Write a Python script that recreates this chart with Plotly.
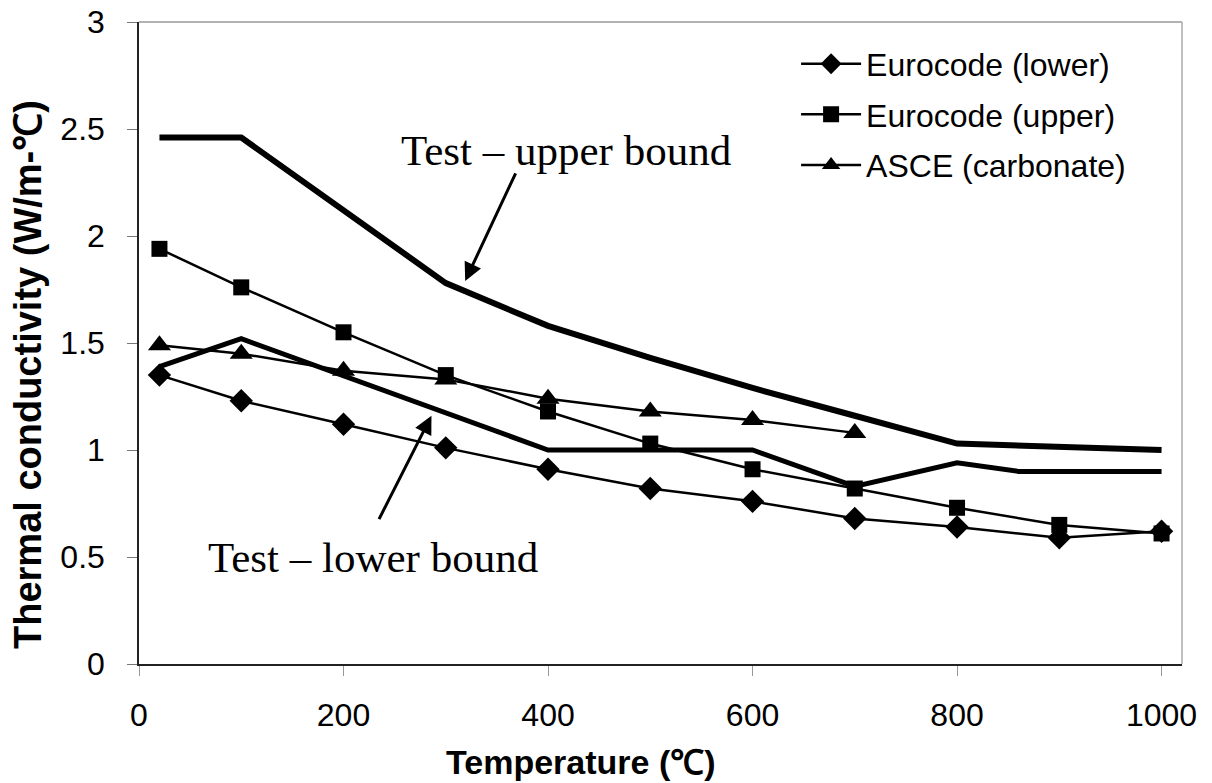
import plotly.graph_objects as go

# Data
temp_std = [20, 100, 200, 300, 400, 500, 600, 700, 800, 900, 1000]
euro_lower = [1.35, 1.23, 1.12, 1.01, 0.91, 0.82, 0.76, 0.68, 0.64, 0.59, 0.62]
euro_upper = [1.94, 1.76, 1.55, 1.35, 1.18, 1.03, 0.91, 0.82, 0.73, 0.65, 0.61]
asce_temp = [20, 100, 200, 300, 400, 500, 600, 700]
asce_carb = [1.49, 1.45, 1.37, 1.33, 1.24, 1.18, 1.14, 1.08]
test_up_temp = [20, 100, 300, 400, 500, 600, 700, 800, 1000]
test_up = [2.46, 2.46, 1.78, 1.58, 1.43, 1.29, 1.16, 1.03, 1.00]
test_lo_temp = [20, 100, 400, 600, 700, 800, 860, 1000]
test_lo = [1.39, 1.52, 1.00, 1.00, 0.83, 0.94, 0.90, 0.90]

fig = go.Figure()

fig.add_trace(go.Scatter(x=test_up_temp, y=test_up, mode="lines",
                         line=dict(color="black", width=6), showlegend=False))
fig.add_trace(go.Scatter(x=test_lo_temp, y=test_lo, mode="lines",
                         line=dict(color="black", width=5), showlegend=False))
fig.add_trace(go.Scatter(x=temp_std, y=euro_lower, mode="lines+markers",
                         name="Eurocode (lower)", legendgroup="a",
                         line=dict(color="black", width=2.5),
                         marker=dict(symbol="diamond", size=18, color="black")))
fig.add_trace(go.Scatter(x=temp_std, y=euro_upper, mode="lines+markers",
                         name="Eurocode (upper)", legendgroup="b",
                         line=dict(color="black", width=2.5),
                         marker=dict(symbol="square", size=16, color="black")))
fig.add_trace(go.Scatter(x=asce_temp, y=asce_carb, mode="lines+markers",
                         name="ASCE (carbonate)", legendgroup="c",
                         line=dict(color="black", width=2.5),
                         marker=dict(symbol="triangle-up", size=20, color="black")))

serif = "Liberation Serif, Times New Roman, serif"
sans = "Liberation Sans, Arial, sans-serif"

plot_w = 1212 - 139 - 30
plot_h = 783 - 22 - 119

fig.update_layout(
    width=1212, height=783,
    margin=dict(l=139, r=30, t=22, b=119),
    paper_bgcolor="white", plot_bgcolor="white",
    font=dict(family=sans, size=32, color="black"),
    legend=dict(x=0.630, y=0.9775, xanchor="left", yanchor="top",
                font=dict(size=32, family=sans), itemwidth=60,
                tracegroupgap=6, bgcolor="rgba(0,0,0,0)"),
    xaxis=dict(range=[0, 1020], tickvals=[0, 200, 400, 600, 800, 1000],
               automargin=False,
               showgrid=False, zeroline=False, showline=True, linecolor="#222",
               linewidth=1.5, ticks="outside", ticklen=10, tickcolor="#999",
               tickfont=dict(size=32), ticklabelstandoff=12),
    yaxis=dict(range=[0, 3], dtick=0.5, showgrid=False, zeroline=False,
               automargin=False,
               showline=True, linecolor="#222", linewidth=1.5,
               ticks="outside", ticklen=10, tickcolor="#777",
               tickfont=dict(size=32), ticklabelstandoff=16),
    shapes=[
        dict(type="line", xref="paper", yref="paper", x0=0, x1=1, y0=1, y1=1,
             line=dict(color="#999", width=1.5)),
        dict(type="line", xref="paper", yref="paper", x0=1, x1=1, y0=0, y1=1,
             line=dict(color="#aaa", width=1.5)),
    ],
    annotations=[
        dict(text="<b>Temperature (℃)</b>", x=(581 - 139) / plot_w,
             y=(664 - 762) / plot_h, xref="paper", yref="paper",
             xanchor="center", yanchor="middle", showarrow=False,
             font=dict(family=sans, size=34)),
        dict(text="<b>Thermal conductivity (W/m-℃)</b>",
             x=(28 - 139) / plot_w, y=(664 - 375) / plot_h,
             xref="paper", yref="paper", xanchor="center", yanchor="middle",
             textangle=-90, showarrow=False,
             font=dict(family=sans, size=38)),
        dict(text="Test – upper bound", x=418, y=2.40, xref="x", yref="y",
             showarrow=False, font=dict(family=serif, size=43)),
        dict(text="Test – lower bound", x=229, y=0.50, xref="x", yref="y",
             showarrow=False, font=dict(family=serif, size=43)),
        dict(text="", x=319, y=1.79, ax=369, ay=2.30, xref="x", yref="y",
             axref="x", ayref="y", showarrow=True, arrowhead=2, arrowsize=1.2,
             arrowwidth=3, arrowcolor="black"),
        dict(text="", x=286, y=1.16, ax=234, ay=0.67, xref="x", yref="y",
             axref="x", ayref="y", showarrow=True, arrowhead=2, arrowsize=1.2,
             arrowwidth=3, arrowcolor="black"),
    ],
)

fig.write_html("out.html")
